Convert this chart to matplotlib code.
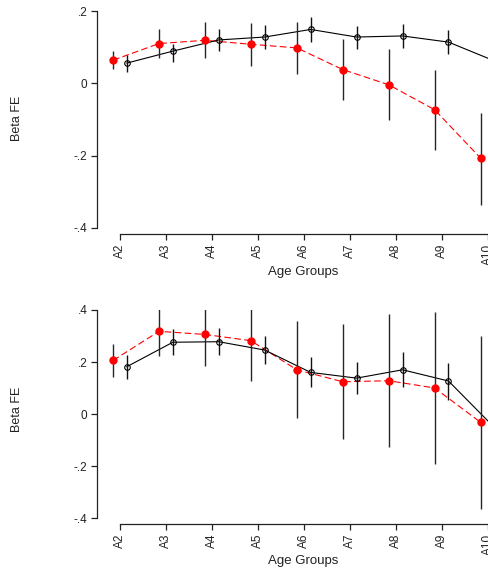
import numpy as np
import matplotlib
matplotlib.use("Agg")
import matplotlib.pyplot as plt

plt.rcParams['font.family'] = ['Liberation Sans', 'DejaVu Sans']

# Age groups A2..A10
groups = [2, 3, 4, 5, 6, 7, 8, 9, 10]
group_labels = ['A2', 'A3', 'A4', 'A5', 'A6', 'A7', 'A8', 'A9', 'A10']

# Top panel: red (dashed, filled) and black (solid, hollow) estimates with CIs
top_red = [0.064, 0.110, 0.119, 0.108, 0.098, 0.038, -0.004, -0.073, -0.207]
top_red_hi = [0.089, 0.149, 0.169, 0.168, 0.170, 0.122, 0.094, 0.037, -0.081]
top_red_lo = [0.039, 0.071, 0.070, 0.048, 0.027, -0.047, -0.101, -0.184, -0.336]
top_blk = [0.056, 0.089, 0.120, 0.128, 0.149, 0.128, 0.131, 0.114, 0.062]
top_blk_hi = [0.078, 0.108, 0.149, 0.160, 0.184, 0.158, 0.163, 0.147, 0.095]
top_blk_lo = [0.031, 0.058, 0.090, 0.094, 0.114, 0.095, 0.098, 0.080, 0.030]
top_yticks = [-0.4, -0.2, 0.0, 0.2]
top_ytick_labels = ['-.4', '-.2', '0', '.2']

# Bottom panel
bot_red = [0.206, 0.318, 0.306, 0.282, 0.170, 0.124, 0.128, 0.100, -0.032]
bot_red_hi = [0.269, 0.414, 0.431, 0.436, 0.358, 0.347, 0.385, 0.392, 0.299]
bot_red_lo = [0.142, 0.224, 0.183, 0.126, -0.017, -0.096, -0.127, -0.192, -0.365]
bot_blk = [0.182, 0.276, 0.278, 0.246, 0.160, 0.138, 0.170, 0.127, -0.052]
bot_blk_hi = [0.228, 0.327, 0.330, 0.300, 0.218, 0.200, 0.238, 0.196, 0.000]
bot_blk_lo = [0.136, 0.227, 0.227, 0.192, 0.103, 0.076, 0.104, 0.054, -0.100]
bot_yticks = [-0.4, -0.2, 0.0, 0.2, 0.4]
bot_ytick_labels = ['-.4', '-.2', '0', '.2', '.4']

W, H = 488, 568
fig = plt.figure(figsize=(W / 100, H / 100), dpi=100)
fig.patch.set_facecolor('white')

OFF = 0.15
x = np.array(groups, dtype=float)


def draw_panel(rect, red, red_hi, red_lo, blk, blk_hi, blk_lo, yticks, ylabels, ymin, ymax, xlab_y, ylab_y):
    ax = fig.add_axes(rect)
    xr = x - OFF
    xb = x + OFF
    ax.plot(xr, red, color='red', lw=0.8, ls=(0, (6, 3)), zorder=2)
    ax.plot(xb, blk, color='black', lw=0.8, zorder=2)
    ax.vlines(xr, red_lo, red_hi, color='#262626', lw=1.0, zorder=3)
    ax.vlines(xb, blk_lo, blk_hi, color='#111111', lw=1.0, zorder=3)
    ax.plot(xr, red, ls='none', marker='o', ms=5, color='red', mec='red', zorder=4)
    ax.plot(xb, blk, ls='none', marker='o', ms=4, mfc='none', mec='black', mew=0.8, zorder=4)

    ax.set_xlim(1.5, 10.5)
    ax.set_ylim(ymin, ymax)
    for s in ['top', 'right']:
        ax.spines[s].set_visible(False)
    ax.spines['left'].set_bounds(yticks[0], yticks[-1])
    ax.spines['bottom'].set_bounds(groups[0], groups[-1])
    for s in ['left', 'bottom']:
        ax.spines[s].set_linewidth(0.9)
        ax.spines[s].set_color('#222222')
    ax.set_yticks(yticks)
    ax.set_yticklabels(ylabels)
    ax.set_xticks(groups)
    ax.set_xticklabels(group_labels, rotation=90)
    ax.tick_params(axis='both', length=4, width=0.9, color='#222222',
                   labelsize=8.5, pad=3, labelcolor='#222222')
    ax.patch.set_alpha(0)

    fig.text(303 / W, 1 - xlab_y / H, 'Age Groups', ha='center', va='center',
             fontsize=9.5, color='#222222')
    fig.text(17 / W, 1 - ylab_y / H, 'Beta FE', ha='center', va='center',
             rotation=90, fontsize=9, color='#222222')
    return ax


left = 97 / W
width = 413.5 / W

# top panel: .2 at y=11, axis line at y=234
draw_panel([left, 1 - 234 / H, width, 223 / H],
           top_red, top_red_hi, top_red_lo, top_blk, top_blk_hi, top_blk_lo,
           top_yticks, top_ytick_labels, -0.4166, 0.2, 272, 118)

# bottom panel: .4 at y=310, axis line at y=524
draw_panel([left, 1 - 524 / H, width, 214 / H],
           bot_red, bot_red_hi, bot_red_lo, bot_blk, bot_blk_hi, bot_blk_lo,
           bot_yticks, bot_ytick_labels, -0.423, 0.4, 561, 409)

fig.savefig('out.png', dpi=100)
